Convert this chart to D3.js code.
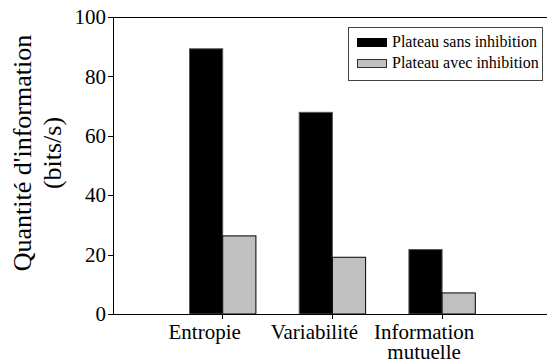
<!DOCTYPE html>
<html>
<head>
<meta charset="utf-8">
<title>Quantité d'information</title>
<script src="https://cdn.jsdelivr.net/npm/d3@7"></script>
<style>
  body { margin: 0; background: #fff; }
  .axis path, .axis line { stroke: #000; stroke-width: 1; shape-rendering: crispEdges; }
  svg text { font-family: "Liberation Serif", "Times New Roman", serif; }
</style>
</head>
<body>
<script>
// data
var categories = ["Entropie", "Variabilité", "Information mutuelle"];
var labelLines = [["Entropie"], ["Variabilité"], ["Information", "mutuelle"]];
var seriesNames = ["Plateau sans inhibition", "Plateau avec inhibition"];
var sansInhibition = [89.3, 67.9, 21.7];
var avecInhibition = [26.3, 19.1, 7.1];
var yTicks = [0, 20, 40, 60, 80, 100];
var colors = ["#000000", "#c0c0c0"];

var w = 547, h = 363;
var plotLeft = 113, plotTop = 17, plotBottom = 314;
var step = 109.7;

var svg = d3.select("body").append("svg")
  .attr("width", w)
  .attr("height", h);

var y = d3.scaleLinear().domain([0, 100]).range([plotBottom, plotTop]);

// band per category, centre of band = tick
var x = d3.scaleBand()
  .domain(categories)
  .range([plotLeft + step / 2, plotLeft + step / 2 + step * categories.length])
  .padding(0);

var barW = 33.2;
var sub = d3.scaleBand().domain([0, 1]).range([-barW, barW]).padding(0);

// top frame line runs to the edge
svg.append("line")
  .attr("x1", plotLeft).attr("x2", w + 5)
  .attr("y1", plotTop + 0.5).attr("y2", plotTop + 0.5)
  .attr("stroke", "#000")
  .attr("shape-rendering", "crispEdges");

// bars
var rows = categories.map(function(c, i) {
  return { cat: c, vals: [sansInhibition[i], avecInhibition[i]] };
});

var groups = svg.selectAll("g.cat")
  .data(rows)
  .enter().append("g")
  .attr("class", "cat")
  .attr("transform", function(d) { return "translate(" + (x(d.cat) + x.bandwidth() / 2) + ",0)"; });

groups.selectAll("rect")
  .data(function(d) { return d.vals; })
  .enter().append("rect")
  .attr("x", function(d, j) { return sub(j); })
  .attr("y", function(d) { return y(d); })
  .attr("width", sub.bandwidth())
  .attr("height", function(d) { return y(0) - y(d); })
  .attr("fill", function(d, j) { return colors[j]; })
  .attr("stroke", function(d, j) { return j === 0 ? "#555" : "#000"; })
  .attr("stroke-width", 1);

// y axis
var yAxis = d3.axisLeft(y)
  .tickValues(yTicks)
  .tickSize(5)
  .tickSizeOuter(0)
  .tickPadding(2);

svg.append("g")
  .attr("class", "axis")
  .attr("transform", "translate(" + plotLeft + ",0)")
  .call(yAxis)
  .attr("font-size", 21);

// x axis: ticks only, labels drawn by hand
var xAxis = d3.axisBottom(x)
  .tickSize(5)
  .tickFormat("");

var gx = svg.append("g")
  .attr("class", "axis")
  .attr("transform", "translate(0," + plotBottom + ")")
  .call(xAxis);
gx.select(".domain").remove();
gx.append("line")
  .attr("x1", plotLeft).attr("x2", w + 5)
  .attr("y1", 0.5).attr("y2", 0.5)
  .attr("stroke", "#000");

gx.selectAll("text.lab")
  .data(labelLines)
  .enter().append("text")
  .attr("class", "lab")
  .attr("text-anchor", "middle")
  .attr("x", function(d, i) { return x(categories[i]) + x.bandwidth() / 2 - 18; })
  .attr("y", 25)
  .attr("fill", "#000")
  .attr("font-size", 21)
  .selectAll("tspan")
  .data(function(d) { return d; })
  .enter().append("tspan")
  .attr("x", function() { return d3.select(this.parentNode).attr("x"); })
  .attr("dy", function(d, k) { return k === 0 ? 0 : 20; })
  .text(function(d) { return d; });

// y title
var title = svg.append("text")
  .attr("transform", "translate(31,153) rotate(-90)")
  .attr("text-anchor", "middle")
  .attr("font-size", 26);
title.append("tspan").attr("x", 0).attr("dy", 0).text("Quantité d'information");
title.append("tspan").attr("x", 0).attr("dy", 30).text("(bits/s)");

// legend
var legend = svg.append("g").attr("transform", "translate(348,27)");
legend.append("rect")
  .attr("x", 0.5).attr("y", 0.5)
  .attr("width", 194).attr("height", 53)
  .attr("fill", "#fff")
  .attr("stroke", "#444");

var items = legend.selectAll("g.item")
  .data(seriesNames)
  .enter().append("g")
  .attr("class", "item")
  .attr("transform", function(d, i) { return "translate(0," + (i * 21) + ")"; });

items.append("rect")
  .attr("x", 9.5).attr("y", 11.5)
  .attr("width", 29).attr("height", 8)
  .attr("fill", function(d, i) { return colors[i]; })
  .attr("stroke", function(d, i) { return i === 0 ? "#000" : "#333"; });

items.append("text")
  .attr("x", 44)
  .attr("y", 20)
  .attr("font-size", 16)
  .text(function(d) { return d; });
</script>
</body>
</html>
